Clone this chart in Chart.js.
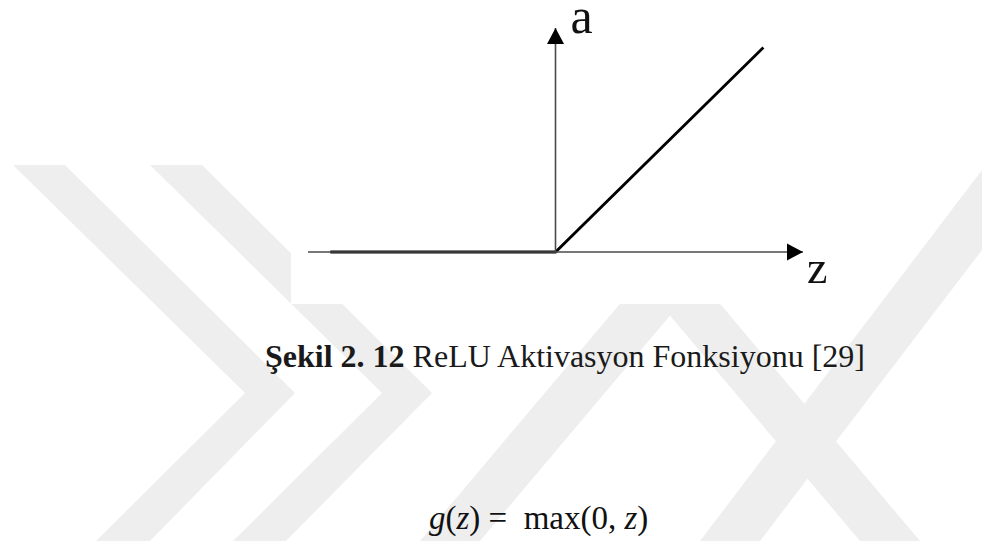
<!DOCTYPE html>
<html>
<head>
<meta charset="utf-8">
<script src="https://cdn.jsdelivr.net/npm/chart.js@4.4.1/dist/chart.umd.min.js"></script>
<style>
  html, body { margin: 0; padding: 0; background: #ffffff; }
  body { width: 982px; height: 541px; position: relative; overflow: hidden; }
  #watermark { position: absolute; left: 0; top: 0; }
  #fig { position: absolute; left: 291px; top: 0; background: #ffffff; }
  .caption {
    position: absolute; left: 265px; top: 340px; line-height: 32px;
    font-family: "Liberation Serif", serif; font-size: 32px; color: #1a1a1a; white-space: nowrap;
  }
  .caption b { font-weight: bold; }
  .formula {
    position: absolute; left: 429px; top: 502px; line-height: 33px;
    font-family: "Liberation Serif", serif; font-size: 33px; color: #111111; white-space: nowrap;
  }
  .formula i { font-style: italic; }
</style>
</head>
<body>
<svg id="watermark" width="982" height="541" viewBox="0 0 982 541">
  <g fill="#eeeeee">
    <polygon points="13,165 65,165 295,393 150,541 96,541 245,393"/>
    <polygon points="150,165 202,165 432,393 286,541 233,541 382,393"/>
    <polygon points="420,541 480,541 700,280 640,280"/>
    <polygon points="640,280 700,280 920,541 860,541"/>
    <polygon points="700,541 760,541 982,250 982,170"/>
  </g>
</svg>
<canvas id="fig" width="565" height="304"></canvas>
<div class="caption"><b>Şekil 2. 12</b> ReLU Aktivasyon Fonksiyonu [29]</div>
<div class="formula"><i>g</i>(<i>z</i>) =&nbsp; max(0, <i>z</i>)</div>

<script>
// ReLU curve: a = max(0, z), sampled at its corner points
const zRelu = [-0.91, 0, 0.84];
const aRelu = [0, 0, 0.84];

// extent of the two axes (arrow tips)
const zAxis = [-1, 1];
const aAxis = [0, 0.92];

// axis names
const zName = "z";
const aName = "a";

const toPoints = (xs, ys) => xs.map((x, i) => ({ x: x, y: ys[i] }));

// arrowheads and axis names, positioned through the chart scales
const axisArrows = {
  id: "axisArrows",
  afterDatasetsDraw(chart) {
    const ctx = chart.ctx;
    const xs = chart.scales.x, ys = chart.scales.y;
    const x0 = xs.getPixelForValue(0), y0 = ys.getPixelForValue(0);
    const xTip = xs.getPixelForValue(zAxis[1]);
    const yTip = ys.getPixelForValue(aAxis[1]);
    const len = 16, half = 8.5;
    ctx.save();
    ctx.fillStyle = "#000";
    // horizontal arrow
    ctx.beginPath();
    ctx.moveTo(xTip, y0);
    ctx.lineTo(xTip - len, y0 - half);
    ctx.lineTo(xTip - len, y0 + half);
    ctx.closePath();
    ctx.fill();
    // vertical arrow
    ctx.beginPath();
    ctx.moveTo(x0, yTip);
    ctx.lineTo(x0 - half, yTip + len);
    ctx.lineTo(x0 + half, yTip + len);
    ctx.closePath();
    ctx.fill();
    // axis names
    ctx.fillStyle = "#111";
    ctx.textBaseline = "alphabetic";
    ctx.font = "50px 'Liberation Serif'";
    ctx.fillText(aName, x0 + 15, yTip + 5);
    ctx.font = "46px 'Liberation Serif'";
    ctx.fillText(zName, xTip + 4, y0 + 31);
    ctx.restore();
  }
};

new Chart(document.getElementById("fig"), {
  type: "scatter",
  data: {
    datasets: [
      {
        label: "z axis",
        data: toPoints(zAxis, [0, 0]),
        showLine: true, borderColor: "#4a4a4a", borderWidth: 1.6,
        pointRadius: 0, clip: false
      },
      {
        label: "a axis",
        data: toPoints([0, 0], aAxis),
        showLine: true, borderColor: "#4a4a4a", borderWidth: 1.6,
        pointRadius: 0, clip: false
      },
      {
        label: "ReLU",
        data: toPoints(zRelu, aRelu),
        showLine: true, borderColor: "#000000", borderWidth: 2.8,
        pointRadius: 0, clip: false, tension: 0
      }
    ]
  },
  options: {
    responsive: false,
    animation: false,
    events: [],
    layout: { padding: { left: 17, right: 53, top: 28, bottom: 52 } },
    plugins: { legend: { display: false }, tooltip: { enabled: false } },
    scales: {
      x: { type: "linear", min: zAxis[0], max: zAxis[1], display: false },
      y: { type: "linear", min: aAxis[0], max: aAxis[1], display: false }
    }
  },
  plugins: [axisArrows]
});
</script>
</body>
</html>
